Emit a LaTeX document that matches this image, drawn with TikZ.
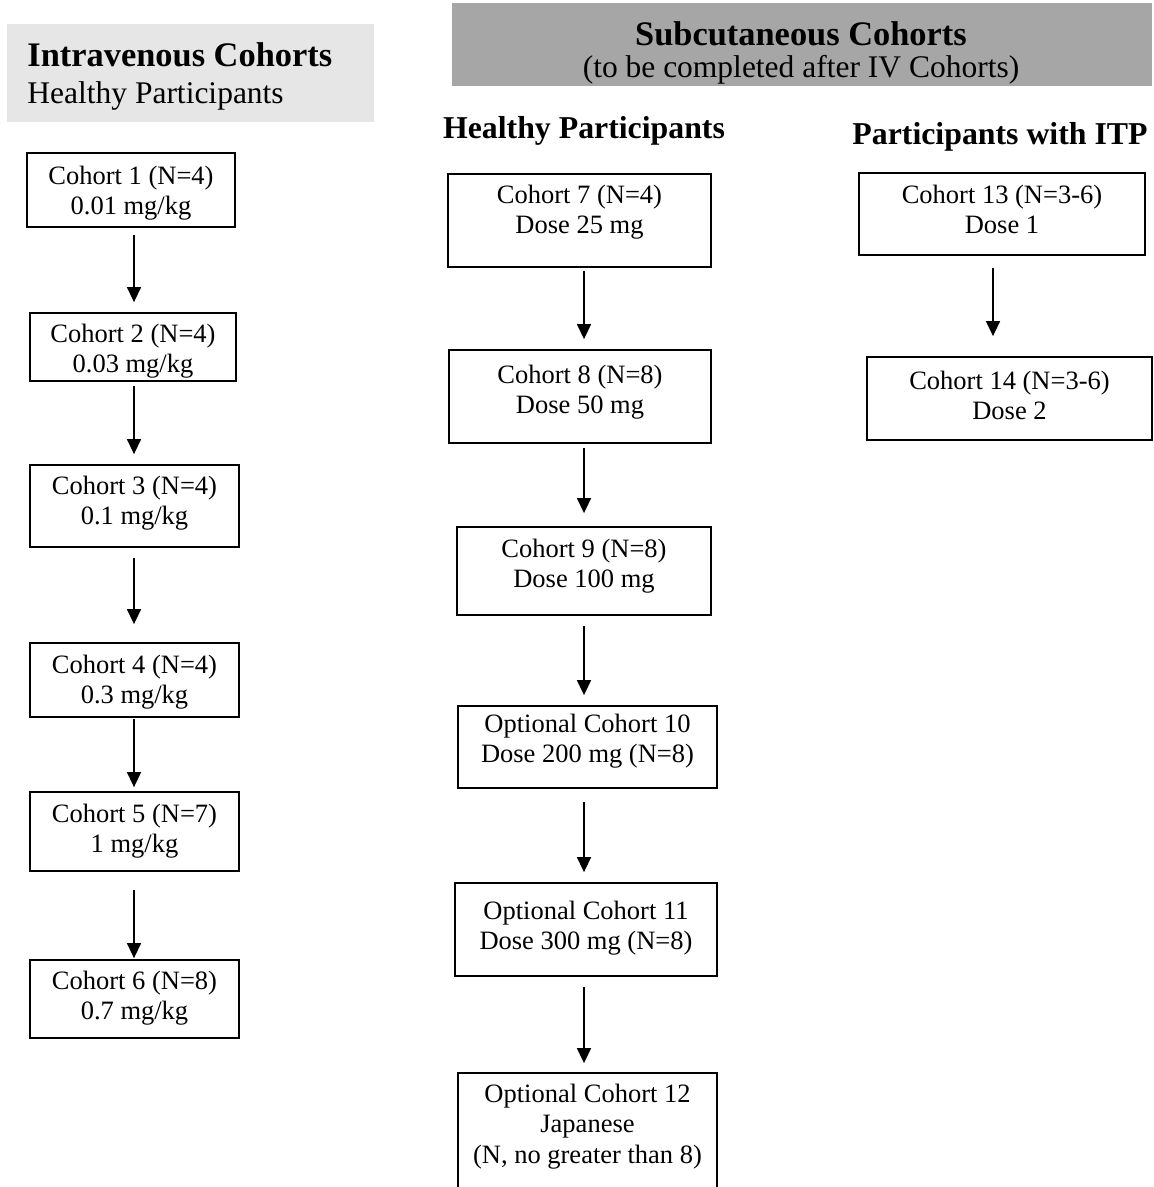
\documentclass[tikz,border=0pt]{standalone}
\usepackage{fontspec}
\setmainfont{Liberation Serif}
\usetikzlibrary{arrows.meta}
\definecolor{hdrlight}{RGB}{230,230,230}
\definecolor{hdrdark}{RGB}{166,166,166}
\newcommand{\cohortbox}[7]{%
  \node[cbox, minimum width={(#4-#2)*0.5pt}, minimum height={(#5-#3)*0.5pt}] (#1) at ({(#2+#4)/2},{(#3+#5)/2}) {};
  \node[ctxt] (#1t) at ([yshift={-#6*0.5pt}]#1.north) {\begin{tabular}[t]{@{}c@{}}#7\end{tabular}};
}
\begin{document}
\begin{tikzpicture}[x=0.5pt,y=-0.5pt,
  cbox/.style={draw, line width=0.9pt, inner sep=0pt, rectangle},
  ctxt/.style={anchor=base, inner sep=0pt, font=\fontsize{13.25}{15.25}\selectfont},
  hdrbox/.style={draw=none, inner sep=0pt, rectangle},
  hdrtitle/.style={inner sep=0pt, font=\fontsize{17.2}{20}\selectfont\bfseries},
  hdrsub/.style={inner sep=0pt, font=\fontsize{15.75}{18}\selectfont},
  subhead/.style={inner sep=0pt, anchor=base, font=\fontsize{15.9}{18}\selectfont\bfseries},
  arr/.style={line width=0.75pt, -{Triangle[width=7pt,length=7.5pt]}}]
\useasboundingbox (0,0) rectangle (1154,1187);

% headers
\node[hdrbox, fill=hdrlight, minimum width={367*0.5pt}, minimum height={98*0.5pt}] (ivhdr) at (190.5,73) {};
\node[hdrtitle, anchor=base west] (ivtitle) at (27,67) {Intravenous Cohorts};
\node[hdrsub, anchor=base west] (ivsub) at (27,104) {Healthy Participants};

\node[hdrbox, fill=hdrdark, minimum width={700*0.5pt}, minimum height={83*0.5pt}] (schdr) at (802,44.5) {};
\node[hdrtitle, anchor=base] (sctitle) at (801,46) {Subcutaneous Cohorts};
\node[hdrsub, anchor=base] (scsub) at (801,78) {(to be completed after IV Cohorts)};

\node[subhead] (hphead) at (584,139) {Healthy Participants};
\node[subhead] (itphead) at (1000,145) {Participants with ITP};

% left column
\cohortbox{c1}{27}{153}{235}{227}{32}{Cohort 1 (N=4)\\0.01 mg/kg}
\cohortbox{c2}{30}{313}{236}{381}{30}{Cohort 2 (N=4)\\0.03 mg/kg}
\cohortbox{c3}{30}{465}{239}{547}{30}{Cohort 3 (N=4)\\0.1 mg/kg}
\cohortbox{c4}{30}{643}{239}{717}{31}{Cohort 4 (N=4)\\0.3 mg/kg}
\cohortbox{c5}{30}{792}{239}{871}{31}{Cohort 5 (N=7)\\1 mg/kg}
\cohortbox{c6}{30}{960}{239}{1038}{30}{Cohort 6 (N=8)\\0.7 mg/kg}

% middle column
\cohortbox{c7}{448}{174}{711}{267}{30}{Cohort 7 (N=4)\\Dose 25 mg}
\cohortbox{c8}{449}{350}{711}{443}{34}{Cohort 8 (N=8)\\Dose 50 mg}
\cohortbox{c9}{457}{527}{711}{615}{31}{Cohort 9 (N=8)\\Dose 100 mg}
\cohortbox{c10}{458}{706}{717}{788}{27}{Optional Cohort 10\\Dose 200 mg (N=8)}
\cohortbox{c11}{455}{883}{717}{976}{37}{Optional Cohort 11\\Dose 300 mg (N=8)}
\cohortbox{c12}{458}{1073}{717}{1210}{30}{Optional Cohort 12\\Japanese\\(N, no greater than 8)}

% right column
\cohortbox{c13}{859}{173}{1145}{255}{31}{Cohort 13 (N=3-6)\\Dose 1}
\cohortbox{c14}{867}{357}{1152}{440}{33}{Cohort 14 (N=3-6)\\Dose 2}

% arrow axes
\coordinate (lx) at (134,0);
\coordinate (mx) at (584,0);
\coordinate (rx) at (993,0);

% left arrows
\draw[arr, shorten <=3.5pt, shorten >=5pt] (c1.south -| lx) -- (c2.north -| lx);
\draw[arr, shorten <=2pt, shorten >=5pt] (c2.south -| lx) -- (c3.north -| lx);
\draw[arr, shorten <=5pt, shorten >=9pt] (c3.south -| lx) -- (c4.north -| lx);
\draw[arr, shorten <=0.5pt, shorten >=2pt] (c4.south -| lx) -- (c5.north -| lx);
\draw[arr, shorten <=9pt, shorten >=0.5pt] (c5.south -| lx) -- (c6.north -| lx);

% middle arrows
\draw[arr, shorten <=1.5pt, shorten >=5pt] (c7.south -| mx) -- (c8.north -| mx);
\draw[arr, shorten <=2pt, shorten >=6.5pt] (c8.south -| mx) -- (c9.north -| mx);
\draw[arr, shorten <=5pt, shorten >=5pt] (c9.south -| mx) -- (c10.north -| mx);
\draw[arr, shorten <=6.5pt, shorten >=5pt] (c10.south -| mx) -- (c11.north -| mx);
\draw[arr, shorten <=5pt, shorten >=4.5pt] (c11.south -| mx) -- (c12.north -| mx);

% right arrow
\draw[arr, shorten <=6pt, shorten >=10pt] (c13.south -| rx) -- (c14.north -| rx);
\end{tikzpicture}
\end{document}
